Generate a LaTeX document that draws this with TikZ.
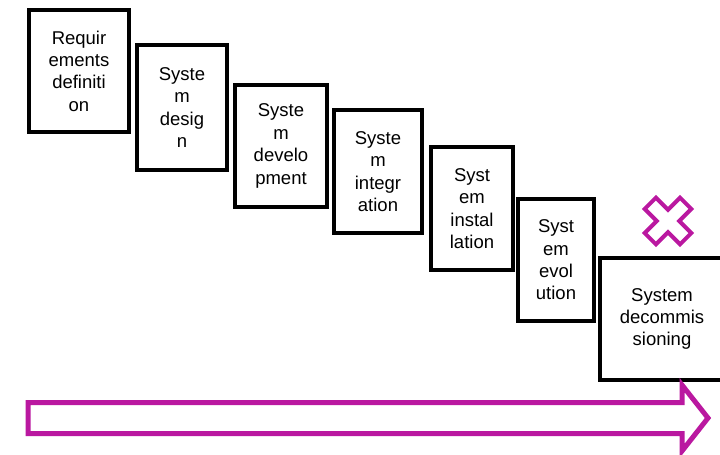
\documentclass[tikz,border=0pt]{standalone}
\usepackage{fontspec}
\setmainfont{Liberation Sans}
\usepackage{xcolor}
\usetikzlibrary{positioning}
\definecolor{lilac}{RGB}{186,24,160}

\begin{document}
\begin{tikzpicture}[
  x=1pt, y=-1pt,
  font=\fontsize{18.5}{22.4}\selectfont,
  phase/.style={draw,line width=4pt,align=center,inner sep=0pt}
]
\useasboundingbox (0,0) rectangle (720,455);
\clip (0,0) rectangle (720,455);
\node[phase,minimum width=100,minimum height=122] (req) at (79,71) {Requir\\ements\\definiti\\on};
\node[phase,minimum width=90,minimum height=125] (des) at (182,107.5) {Syste\\m\\desig\\n};
\node[phase,minimum width=92,minimum height=122] (dev) at (281,146) {Syste\\m\\develo\\pment};
\node[phase,minimum width=88,minimum height=123] (int) at (378,171.5) {Syste\\m\\integr\\ation};
\node[phase,minimum width=82,minimum height=123] (ins) at (472,208.5) {Syst\\em\\instal\\lation};
\node[phase,minimum width=76,minimum height=122] (evo) at (556,260) {Syst\\em\\evol\\ution};
\node[phase,minimum width=124,minimum height=122] (dec) at (662,319) {System\\decommis\\sioning};
% cross above the last phase
\draw[lilac,line width=4pt,line join=miter,rotate around={45:(668,221)}]
  (668,221) ++(-8,-25) -- ++(16,0) -- ++(0,17) -- ++(17,0) -- ++(0,16)
  -- ++(-17,0) -- ++(0,17) -- ++(-16,0) -- ++(0,-17) -- ++(-17,0)
  -- ++(0,-16) -- ++(17,0) -- cycle;
% time arrow
\draw[lilac,line width=5pt,line join=miter]
  (28,402.5) -- (682,402.5) -- (682,385) -- (708,418) -- (682,451)
  -- (682,433.5) -- (28,433.5) -- cycle;
\end{tikzpicture}
\end{document}
